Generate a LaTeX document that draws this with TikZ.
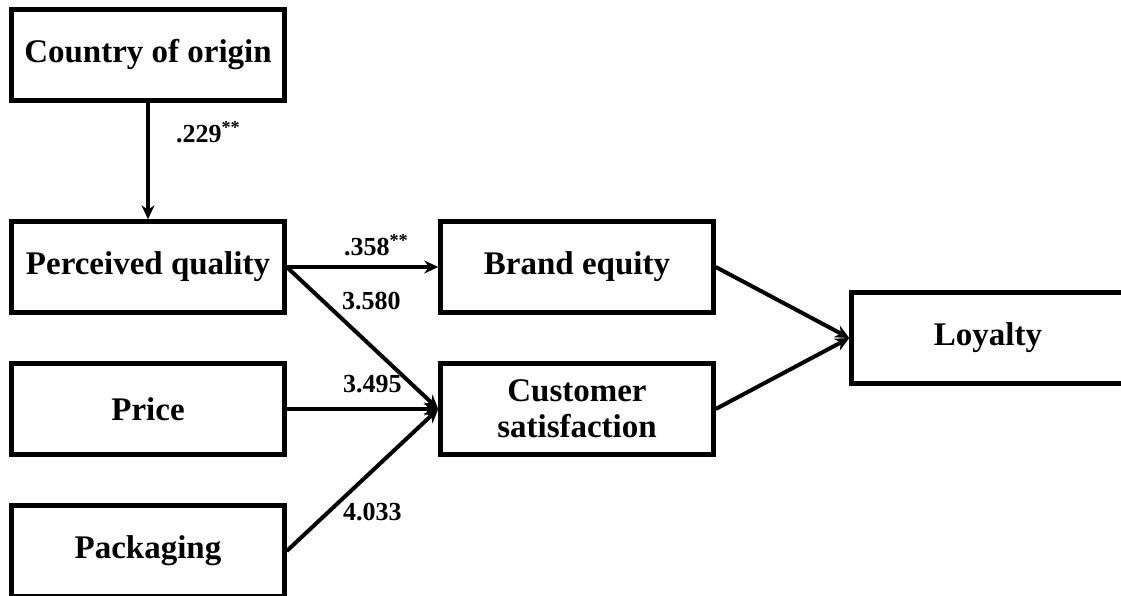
\documentclass[tikz,border=0pt]{standalone}
\usepackage{fontspec}
\setmainfont{Liberation Serif}
\usetikzlibrary{arrows.meta}

\begin{document}
\begin{tikzpicture}[x=1pt,y=-1pt,line width=4pt,
    every edge/.style={draw,-{Stealth[length=14pt,width=13pt]}},
    font=\fontsize{33}{36}\selectfont\bfseries]
    \tikzstyle{block}=[draw,rectangle,line width=4.5pt,minimum width=273pt,
      minimum height=91pt,inner sep=0pt,align=center]
    \tikzstyle{coef}=[font=\fontsize{26}{30}\selectfont\bfseries,anchor=west,inner sep=0pt]

    \useasboundingbox (0,0) rectangle (1121,596);

    \node[block] (coo) at (148,55) {Country of origin};
    \node[block] (pq) at (148,267) {Perceived quality};
    \node[block] (price) at (148,409) {Price};
    \node[block] (pack) at (148,551) {Packaging};
    \node[block] (be) at (577,267) {Brand equity};
    \node[block] (cs) at (577,409) {Customer\\satisfaction};
    \node[block] (loy) at (988,338) {Loyalty};

    \path
    (coo) edge (pq)
    (pq.east) edge (be.west)
    (pq.east) edge (cs.west)
    (price.east) edge (cs.west)
    (pack.east) edge (cs.west)
    (be.east) edge (loy.west)
    (cs.east) edge (loy.west);

    \node[coef] (c1) at (174,132) {.229\textsuperscript{**}};
    \node[coef] (c2) at (342,245) {.358\textsuperscript{**}};
    \node[coef] (c3) at (340,301) {3.580};
    \node[coef] (c4) at (341,384) {3.495};
    \node[coef] (c5) at (341,512) {4.033};

  \end{tikzpicture}
\end{document}
